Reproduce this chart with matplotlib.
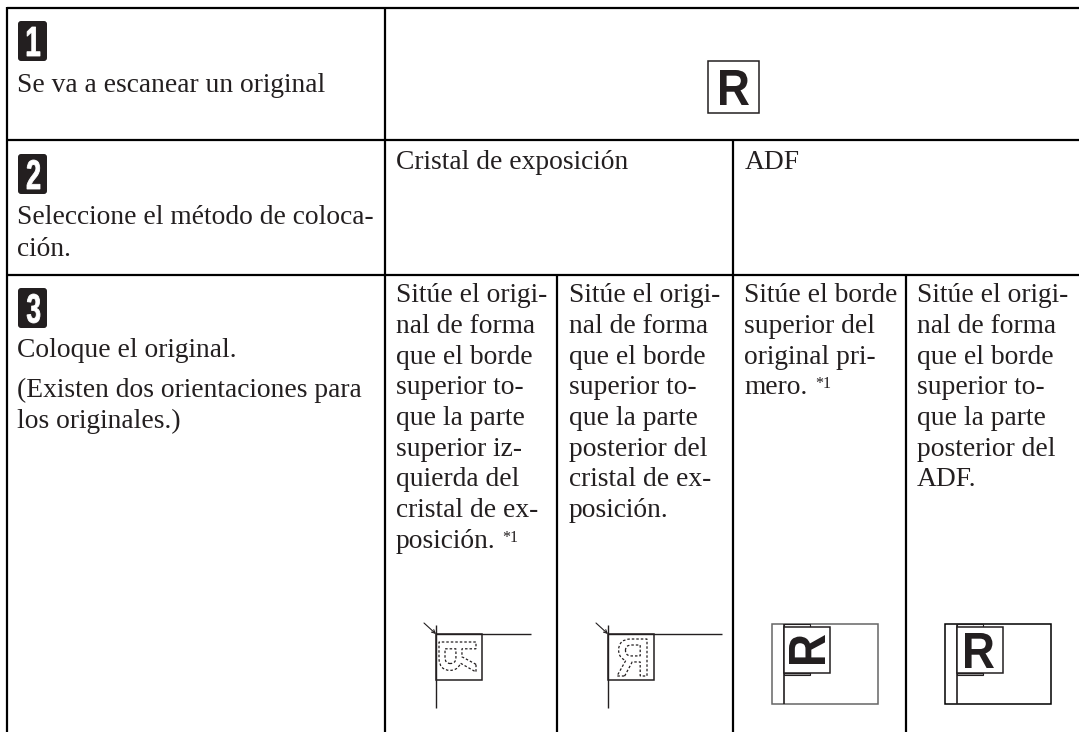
# table of scanner original placement steps
import matplotlib
matplotlib.use('Agg')
import matplotlib.pyplot as plt
from matplotlib.patches import Rectangle, FancyBboxPatch, PathPatch
from matplotlib.textpath import TextPath
from matplotlib.font_manager import FontProperties
from matplotlib.transforms import Affine2D

INK = '#231f20'
SERIF = 'Liberation Serif'
FS = 19.8
LH = 30.75

# table grid, in pixels of the page (no border on the right side)
left, right, top, bottom = 7, 1079, 8, 732
row_y = [140, 275]
col_main = 385
col_row2 = [733]
col_row3 = [557, 733, 906]

# left column text
step_numbers = ['1', '2', '3']
badge_top = [21, 154, 288]
step_lines = [
    ('Se va a escanear un original', 92),
    ('Seleccione el método de coloca-', 224),
    ('ción.', 256),
    ('Coloque el original.', 357),
    ('(Existen dos orientaciones para', 397),
    ('los originales.)', 428),
]

# right columns text
row2_labels = [('Cristal de exposición', 396), ('ADF', 745)]
row2_base = 169
row3_x = [396, 569, 744, 917]
cell1 = ['Sitúe el origi-', 'nal de forma', 'que el borde', 'superior to-', 'que la parte',
         'superior iz-', 'quierda del', 'cristal de ex-', 'posición.']
cell2 = ['Sitúe el origi-', 'nal de forma', 'que el borde', 'superior to-', 'que la parte',
         'posterior del', 'cristal de ex-', 'posición.']
cell3 = ['Sitúe el borde', 'superior del', 'original pri-', 'mero.']
cell4 = ['Sitúe el origi-', 'nal de forma', 'que el borde', 'superior to-', 'que la parte',
         'posterior del', 'ADF.']
row3_base = 302
footnotes = [(502, 542, '*1'), (815, 388, '*1')]


def glyph(ax, s, box, rot=0, mirror=False, weight='bold', **kw):
    # squeeze one character into a pixel box (x0, y0, x1, y1)
    fp = FontProperties(family='Liberation Sans', weight=weight)
    tp = TextPath((0, 0), s, size=10, prop=fp)
    tr = Affine2D()
    if mirror:
        tr = tr.scale(-1, 1)
    tr = tr.rotate_deg(rot).scale(1, -1)
    p = tr.transform_path(tp)
    b = p.get_extents()
    x0, y0, x1, y1 = box
    fit = Affine2D().translate(-b.x0, -b.y0).scale((x1 - x0) / b.width, (y1 - y0) / b.height).translate(x0, y0)
    ax.add_patch(PathPatch(fit.transform_path(p), **kw))


def line(ax, xs, ys, lw=1.0, c=INK):
    ax.plot(xs, ys, color=c, lw=lw, solid_capstyle='butt')


fig = plt.figure(figsize=(10.79, 7.32), dpi=100)
ax = fig.add_axes([0, 0, 1, 1])
ax.set_xlim(0, 1079)
ax.set_ylim(732, 0)
ax.axis('off')

# grid
bw = 1.6
line(ax, [left, left], [top - 1, bottom], bw, 'black')
line(ax, [left, right], [top, top], bw, 'black')
for y in row_y:
    line(ax, [left, right], [y, y], bw, 'black')
line(ax, [col_main, col_main], [top, bottom], bw, 'black')
for x in col_row2:
    line(ax, [x, x], [row_y[0], row_y[1]], bw, 'black')
for x in col_row3:
    line(ax, [x, x], [row_y[1], bottom], bw, 'black')

# number badges
for n, y in zip(step_numbers, badge_top):
    ax.add_patch(FancyBboxPatch((20, y + 2), 25, 36, boxstyle='round,pad=2,rounding_size=3',
                                fc=INK, ec='none'))
    glyph(ax, n, (27, y + 6, 40, y + 35), fc='white', ec='white', lw=0.6)

for s, y in step_lines:
    ax.text(17, y, s, family=SERIF, fontsize=FS, color=INK, va='baseline')
for s, x in row2_labels:
    ax.text(x, row2_base, s, family=SERIF, fontsize=FS, color=INK, va='baseline')
for x, cell in zip(row3_x, [cell1, cell2, cell3, cell4]):
    for i, s in enumerate(cell):
        ax.text(x, row3_base + i * LH, s, family=SERIF, fontsize=FS, color=INK, va='baseline')
for x, y, s in footnotes:
    ax.text(x, y, s, family=SERIF, fontsize=11.5, color=INK, va='baseline')

# big R on top
ax.add_patch(Rectangle((708, 61), 51, 51.5, fc='none', ec=INK, lw=1.1))
glyph(ax, 'R', (720, 70, 749, 105), fc=INK, ec='none')

# exposure glass drawings
for cx, hx, rot, box in [(436, 531, 90, (439, 642, 476, 672)), (608, 722, 0, (617, 639, 647, 676))]:
    line(ax, [cx, hx], [634, 634], 1.0)
    line(ax, [cx, cx], [625, 708], 1.0)
    ax.add_patch(Rectangle((cx, 634), 46, 46, fc='none', ec=INK, lw=1.1))
    ax.annotate('', xy=(cx, 634), xytext=(cx - 12, 623),
                arrowprops=dict(arrowstyle='->', color=INK, lw=0.8, shrinkA=0, shrinkB=0, mutation_scale=6))
    glyph(ax, 'R', box, rot=rot, mirror=True, fc='none', ec=INK, lw=0.9, ls=(0, (2.0, 1.6)))

# ADF drawings
for x0, rot, box, edge in [(772, 90, (789, 635, 825, 664), '#666666'), (945, 0, (965, 633, 994, 668), 'black')]:
    ax.add_patch(Rectangle((x0, 624), 105.5, 80, fc='none', ec=edge, lw=1.1))
    sx = x0 + 12
    line(ax, [sx, sx], [624, 704], 1.2)
    ax.add_patch(Rectangle((sx, 624), 26, 2.5, fc='none', ec=INK, lw=0.8))
    ax.add_patch(Rectangle((sx, 672.5), 26, 2.5, fc='#999999', ec=INK, lw=0.8))
    ax.add_patch(Rectangle((sx, 626.5), 46, 46, fc='white', ec=INK, lw=1.1, zorder=3))
    glyph(ax, 'R', box, rot=rot, fc=INK, ec='none', zorder=4)

fig.savefig('out.png', dpi=100)
